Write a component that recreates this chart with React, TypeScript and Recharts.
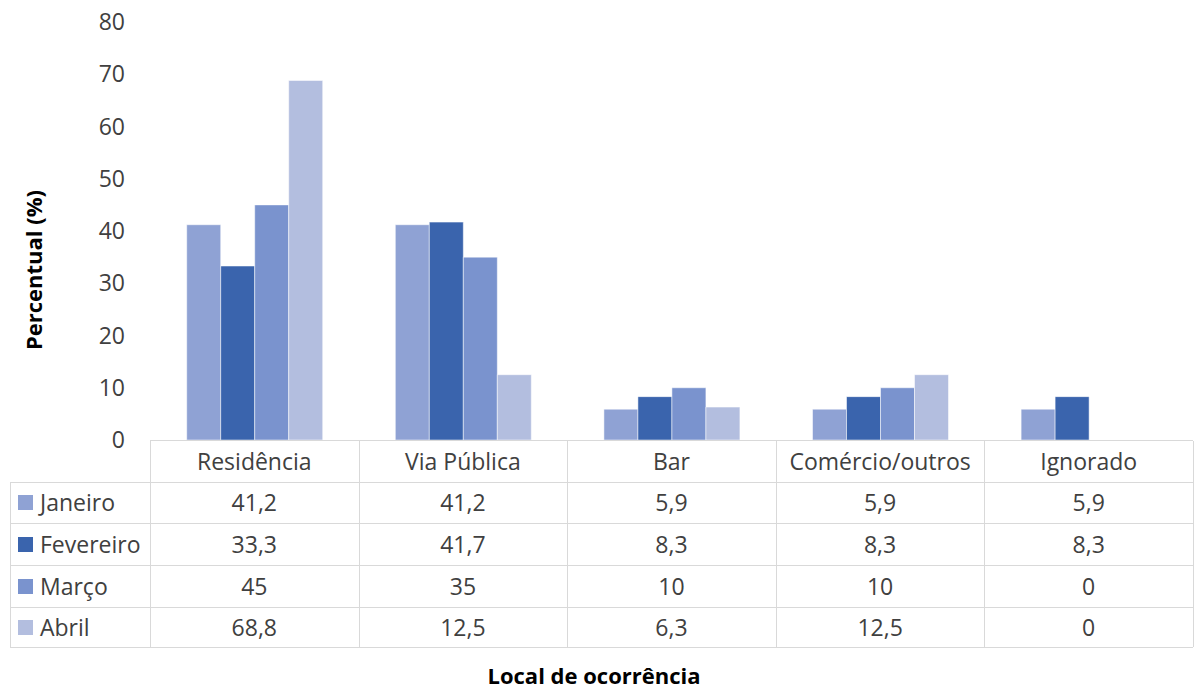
import React from "react";
import { BarChart, Bar, XAxis, YAxis } from "recharts";

const categories = ["Residência", "Via Pública", "Bar", "Comércio/outros", "Ignorado"];
const seriesNames = ["Janeiro", "Fevereiro", "Março", "Abril"];
const janeiro = [41.2, 41.2, 5.9, 5.9, 5.9];
const fevereiro = [33.3, 41.7, 8.3, 8.3, 8.3];
const marco = [45, 35, 10, 10, 0];
const abril = [68.8, 12.5, 6.3, 12.5, 0];
const yTicks = [0, 10, 20, 30, 40, 50, 60, 70, 80];
const colors = ["#8fa2d4", "#3a64ad", "#7a93ce", "#b3bedf"];

const series = [janeiro, fevereiro, marco, abril];
const keys = ["janeiro", "fevereiro", "marco", "abril"];

const data = categories.map((name, i) => ({
  name,
  janeiro: janeiro[i],
  fevereiro: fevereiro[i],
  marco: marco[i],
  abril: abril[i],
}));

const W = 1195;
const H = 689;
const plotLeft = 150;
const plotRight = 1193;
const plotTop = 22;
const plotBottom = 440;
const bandW = (plotRight - plotLeft) / categories.length;
const rowTops = [441, 482, 523, 565, 607];
const tableBottom = 647;
const font = "'Open Sans', Lato, sans-serif";
const fontSize = 23;
const titleSize = 22;
const textColor = "#404040";
const lineColor = "#d9d9d9";

const fmt = (v: number) => String(v).replace(".", ",");

function DataTable() {
  const cells: React.ReactNode[] = [];
  // horizontal lines
  cells.push(
    <div key="h0" style={{ position: "absolute", left: plotLeft, top: plotBottom, width: plotRight - plotLeft, height: 1, background: lineColor }} />
  );
  rowTops.slice(1).concat([tableBottom]).forEach((y, i) => {
    cells.push(
      <div key={"h" + (i + 1)} style={{ position: "absolute", left: 10, top: y, width: plotRight - 10, height: 1, background: lineColor }} />
    );
  });
  // vertical lines
  for (let c = 0; c <= categories.length; c++) {
    cells.push(
      <div key={"v" + c} style={{ position: "absolute", left: Math.round(plotLeft + c * bandW), top: rowTops[0], width: 1, height: tableBottom - rowTops[0], background: lineColor }} />
    );
  }
  cells.push(
    <div key="vl" style={{ position: "absolute", left: 10, top: rowTops[1], width: 1, height: tableBottom - rowTops[1], background: lineColor }} />
  );
  // header
  categories.forEach((c, i) => {
    cells.push(
      <div key={"hc" + i} style={{ position: "absolute", left: plotLeft + i * bandW, top: rowTops[0], width: bandW, height: rowTops[1] - rowTops[0], lineHeight: rowTops[1] - rowTops[0] + "px", textAlign: "center", whiteSpace: "nowrap" }}>{c}</div>
    );
  });
  // rows
  seriesNames.forEach((s, r) => {
    const top = rowTops[r + 1];
    const h = (r + 2 < rowTops.length ? rowTops[r + 2] : tableBottom) - top;
    cells.push(
      <div key={"rl" + r} style={{ position: "absolute", left: 18, top, height: h, lineHeight: h + "px", display: "flex", alignItems: "center", whiteSpace: "nowrap" }}>
        <span style={{ display: "inline-block", width: 15, height: 15, background: colors[r], marginRight: 7 }} />
        {s}
      </div>
    );
    series[r].forEach((v, i) => {
      cells.push(
        <div key={"c" + r + "_" + i} style={{ position: "absolute", left: plotLeft + i * bandW, top, width: bandW, height: h, lineHeight: h + "px", textAlign: "center" }}>{fmt(v)}</div>
      );
    });
  });
  return <>{cells}</>;
}

export default function App() {
  return (
    <div style={{ position: "absolute", left: 0, top: 0, width: W, height: H, background: "#fff", fontFamily: font, fontSize, color: textColor, overflow: "hidden" }}>
      <BarChart
        width={W}
        height={H}
        data={data}
        margin={{ top: plotTop, right: W - plotRight, bottom: H - plotBottom, left: plotLeft - 60 }}
        barCategoryGap="17.6%"
        barGap={0}
      >
        <XAxis dataKey="name" hide />
        <YAxis
          width={60}
          domain={[0, 80]}
          ticks={yTicks}
          axisLine={false}
          tickLine={false}
          tickSize={0}
          tickMargin={25}
          tick={{ fill: textColor, fontSize, fontFamily: font }}
        />
        {keys.map((k, i) => (
          <Bar key={k} dataKey={k} name={seriesNames[i]} fill={colors[i]} stroke="#ffffff" strokeOpacity={0.5} strokeWidth={1} isAnimationActive={false} />
        ))}
      </BarChart>
      <DataTable />
      <div style={{ position: "absolute", left: 33, top: 270, transform: "translate(-50%, -50%) rotate(-90deg)", whiteSpace: "nowrap", fontWeight: "bold", fontSize: titleSize, color: "#000" }}>
        Percentual (%)
      </div>
      <div style={{ position: "absolute", left: 594, top: 675, transform: "translate(-50%, -50%)", whiteSpace: "nowrap", fontWeight: "bold", fontSize: titleSize, lineHeight: "24px", color: "#000" }}>
        Local de ocorrência
      </div>
    </div>
  );
}
